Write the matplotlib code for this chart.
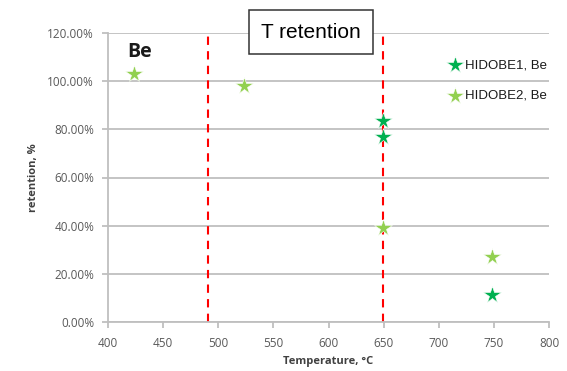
import matplotlib.pyplot as plt
from matplotlib.ticker import FuncFormatter

# retention data, temperature in °C, retention in %
hidobe1_temp = [649, 649, 748]
hidobe1_ret = [83.5, 76.8, 11.2]
hidobe2_temp = [424, 523, 649, 748]
hidobe2_ret = [103.0, 98.1, 39.2, 27.1]
limit_temps = [491, 649]
x_ticks = [400, 450, 500, 550, 600, 650, 700, 750, 800]
y_ticks = [0, 20, 40, 60, 80, 100, 120]

dark_green = '#00B050'
light_green = '#92D050'
grey = '#BFBFBF'
tick_grey = '#595959'

plt.rcParams['font.family'] = ['Open Sans', 'DejaVu Sans']

fig = plt.figure(figsize=(5.67, 3.71), dpi=100)
ax = fig.add_axes([108 / 567, 49 / 371, 441 / 567, 289 / 371])

ax.set_xlim(400, 800)
ax.set_ylim(0, 120)
ax.set_xticks(x_ticks)
ax.set_yticks(y_ticks)
ax.yaxis.set_major_formatter(FuncFormatter(lambda v, p: f"{v:.2f}%"))
ax.grid(axis='y', color=grey, linewidth=1.3)
ax.set_axisbelow(True)

for s in ['top', 'right']:
    ax.spines[s].set_visible(False)
for s in ['left', 'bottom']:
    ax.spines[s].set_color(grey)
    ax.spines[s].set_linewidth(1.3)
ax.tick_params(axis='both', colors=grey, labelcolor=tick_grey, labelsize=8.5,
               length=4, width=1.3)
ax.tick_params(axis='y', pad=6)
ax.tick_params(axis='x', pad=7)

for t in limit_temps:
    ax.axvline(t, color='#FF0000', linestyle=(0, (4, 3)), linewidth=1.5, zorder=2)

ax.plot(hidobe1_temp, hidobe1_ret, linestyle='none', marker='*', markersize=13,
        color=dark_green, markeredgecolor='white', markeredgewidth=0.4,
        zorder=3)
ax.plot(hidobe2_temp, hidobe2_ret, linestyle='none', marker='*', markersize=13,
        color=light_green, markeredgecolor='white', markeredgewidth=0.4,
        zorder=3)

ax.set_xlabel('Temperature, °C', fontsize=8, fontweight='bold', color='#404040',
              labelpad=4)
ax.set_ylabel('retention, %', fontsize=8, fontweight='bold', color='#404040',
              labelpad=6)

# legend entries placed by hand, no frame
for yy, col, lab in [(65, dark_green, 'HIDOBE1, Be'), (96, light_green, 'HIDOBE2, Be')]:
    fig.lines.append(plt.Line2D([455 / 567], [1 - yy / 371], transform=fig.transFigure,
                                marker='*', markersize=13, color=col,
                                markeredgecolor='white', markeredgewidth=0.4))
    fig.text(465 / 567, 1 - yy / 371, lab, fontsize=9.5, family='Liberation Sans',
             va='center', ha='left', color='#1a1a1a')

fig.text(127 / 567, 1 - 52 / 371, 'Be', fontsize=14, fontweight='bold', va='center',
         ha='left', color='#1a1a1a')

fig.text(311 / 567, 1 - 32 / 371, 'T retention', fontsize=15, family='Liberation Sans',
         va='center', ha='center', color='black',
         bbox=dict(boxstyle='square,pad=0.6', facecolor='white', edgecolor='#333333',
                   linewidth=1.1))

fig.savefig('out.png', dpi=100)
